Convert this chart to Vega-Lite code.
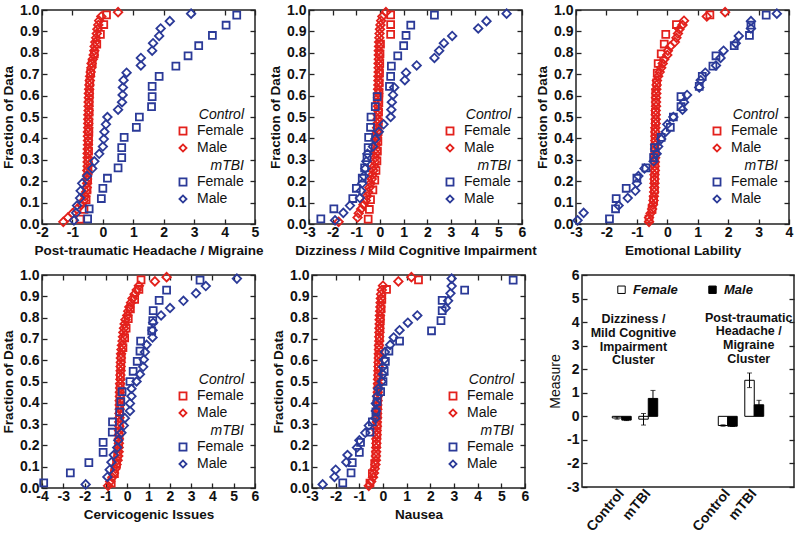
{
"$schema": "https://vega.github.io/schema/vega-lite/v6.json",
"padding": {"left": 0, "top": 2, "right": 0, "bottom": 0},
"background": "white",
"config": {
 "font": "Liberation Sans",
 "view": {"stroke": "#222", "strokeWidth": 1.5},
 "axis": {"domain": false, "grid": false, "tickSize": -5, "tickColor": "#222", "tickWidth": 1.3, "labelFontSize": 14, "labelFontWeight": "bold", "labelColor": "#111", "labelPadding": 8, "labelFlush": false, "labelOverlap": false, "titleFontSize": 13.5, "titleFontWeight": "bold", "titleColor": "#111", "titlePadding": 4},
 "legend": {"padding": 0, "labelFontSize": 14, "labelColor": "#111", "titleFontSize": 14, "titleFontStyle": "italic", "titleFontWeight": "normal", "titleColor": "#111", "titleAnchor": "end", "titlePadding": 2, "symbolSize": 50, "symbolStrokeWidth": 1.8, "rowPadding": 1, "labelOffset": 7},
 "point": {"filled": false, "opacity": 1, "strokeWidth": 1.8}
},
"datasets": {
"p1": [
{"g":"C","s":"F","x":-0.75,"y":0.023},{"g":"C","s":"F","x":-0.62,"y":0.068},{"g":"C","s":"F","x":-0.55,"y":0.114},{"g":"C","s":"F","x":-0.52,"y":0.159},{"g":"C","s":"F","x":-0.5,"y":0.205},{"g":"C","s":"F","x":-0.49,"y":0.25},{"g":"C","s":"F","x":-0.48,"y":0.295},{"g":"C","s":"F","x":-0.47,"y":0.341},{"g":"C","s":"F","x":-0.47,"y":0.386},{"g":"C","s":"F","x":-0.46,"y":0.432},{"g":"C","s":"F","x":-0.46,"y":0.477},{"g":"C","s":"F","x":-0.45,"y":0.523},{"g":"C","s":"F","x":-0.45,"y":0.568},{"g":"C","s":"F","x":-0.44,"y":0.614},{"g":"C","s":"F","x":-0.43,"y":0.659},{"g":"C","s":"F","x":-0.4,"y":0.705},{"g":"C","s":"F","x":-0.35,"y":0.75},{"g":"C","s":"F","x":-0.28,"y":0.795},{"g":"C","s":"F","x":-0.2,"y":0.841},{"g":"C","s":"F","x":-0.08,"y":0.886},{"g":"C","s":"F","x":0.03,"y":0.932},{"g":"C","s":"F","x":0.12,"y":0.977},
{"g":"C","s":"M","x":-1.3,"y":0.01},{"g":"C","s":"M","x":-1.15,"y":0.03},{"g":"C","s":"M","x":-1.0,"y":0.05},{"g":"C","s":"M","x":-0.85,"y":0.07},{"g":"C","s":"M","x":-0.7,"y":0.09},{"g":"C","s":"M","x":-0.62,"y":0.11},{"g":"C","s":"M","x":-0.58,"y":0.13},{"g":"C","s":"M","x":-0.55,"y":0.15},{"g":"C","s":"M","x":-0.53,"y":0.17},{"g":"C","s":"M","x":-0.52,"y":0.19},{"g":"C","s":"M","x":-0.52,"y":0.21},{"g":"C","s":"M","x":-0.51,"y":0.23},{"g":"C","s":"M","x":-0.51,"y":0.25},{"g":"C","s":"M","x":-0.5,"y":0.27},{"g":"C","s":"M","x":-0.5,"y":0.29},{"g":"C","s":"M","x":-0.5,"y":0.31},{"g":"C","s":"M","x":-0.5,"y":0.33},{"g":"C","s":"M","x":-0.5,"y":0.35},{"g":"C","s":"M","x":-0.49,"y":0.37},{"g":"C","s":"M","x":-0.49,"y":0.39},{"g":"C","s":"M","x":-0.49,"y":0.41},{"g":"C","s":"M","x":-0.49,"y":0.43},{"g":"C","s":"M","x":-0.48,"y":0.45},{"g":"C","s":"M","x":-0.48,"y":0.47},{"g":"C","s":"M","x":-0.48,"y":0.49},{"g":"C","s":"M","x":-0.48,"y":0.51},{"g":"C","s":"M","x":-0.47,"y":0.53},{"g":"C","s":"M","x":-0.47,"y":0.55},{"g":"C","s":"M","x":-0.47,"y":0.57},{"g":"C","s":"M","x":-0.46,"y":0.59},{"g":"C","s":"M","x":-0.46,"y":0.61},{"g":"C","s":"M","x":-0.45,"y":0.63},{"g":"C","s":"M","x":-0.44,"y":0.65},{"g":"C","s":"M","x":-0.43,"y":0.67},{"g":"C","s":"M","x":-0.42,"y":0.69},{"g":"C","s":"M","x":-0.4,"y":0.71},{"g":"C","s":"M","x":-0.38,"y":0.73},{"g":"C","s":"M","x":-0.37,"y":0.75},{"g":"C","s":"M","x":-0.33,"y":0.77},{"g":"C","s":"M","x":-0.3,"y":0.79},{"g":"C","s":"M","x":-0.28,"y":0.81},{"g":"C","s":"M","x":-0.27,"y":0.83},{"g":"C","s":"M","x":-0.25,"y":0.85},{"g":"C","s":"M","x":-0.22,"y":0.87},{"g":"C","s":"M","x":-0.2,"y":0.89},{"g":"C","s":"M","x":-0.18,"y":0.91},{"g":"C","s":"M","x":-0.15,"y":0.93},{"g":"C","s":"M","x":-0.12,"y":0.95},{"g":"C","s":"M","x":-0.05,"y":0.97},{"g":"C","s":"M","x":0.5,"y":0.99},
{"g":"T","s":"F","x":-0.5,"y":0.024},{"g":"T","s":"F","x":-0.45,"y":0.071},{"g":"T","s":"F","x":-0.05,"y":0.119},{"g":"T","s":"F","x":0.0,"y":0.167},{"g":"T","s":"F","x":0.15,"y":0.214},{"g":"T","s":"F","x":0.5,"y":0.262},{"g":"T","s":"F","x":0.62,"y":0.31},{"g":"T","s":"F","x":0.62,"y":0.357},{"g":"T","s":"F","x":0.7,"y":0.405},{"g":"T","s":"F","x":1.1,"y":0.452},{"g":"T","s":"F","x":1.2,"y":0.5},{"g":"T","s":"F","x":1.6,"y":0.548},{"g":"T","s":"F","x":1.62,"y":0.595},{"g":"T","s":"F","x":1.62,"y":0.643},{"g":"T","s":"F","x":1.85,"y":0.69},{"g":"T","s":"F","x":2.4,"y":0.738},{"g":"T","s":"F","x":2.8,"y":0.786},{"g":"T","s":"F","x":3.15,"y":0.833},{"g":"T","s":"F","x":3.6,"y":0.881},{"g":"T","s":"F","x":4.05,"y":0.929},{"g":"T","s":"F","x":4.4,"y":0.976},
{"g":"T","s":"M","x":-0.95,"y":0.017},{"g":"T","s":"M","x":-0.88,"y":0.052},{"g":"T","s":"M","x":-0.85,"y":0.086},{"g":"T","s":"M","x":-0.75,"y":0.121},{"g":"T","s":"M","x":-0.73,"y":0.155},{"g":"T","s":"M","x":-0.68,"y":0.19},{"g":"T","s":"M","x":-0.52,"y":0.224},{"g":"T","s":"M","x":-0.35,"y":0.259},{"g":"T","s":"M","x":-0.28,"y":0.293},{"g":"T","s":"M","x":-0.12,"y":0.328},{"g":"T","s":"M","x":0.0,"y":0.362},{"g":"T","s":"M","x":0.03,"y":0.397},{"g":"T","s":"M","x":0.05,"y":0.431},{"g":"T","s":"M","x":0.1,"y":0.466},{"g":"T","s":"M","x":0.15,"y":0.5},{"g":"T","s":"M","x":0.5,"y":0.534},{"g":"T","s":"M","x":0.63,"y":0.569},{"g":"T","s":"M","x":0.65,"y":0.603},{"g":"T","s":"M","x":0.66,"y":0.638},{"g":"T","s":"M","x":0.68,"y":0.672},{"g":"T","s":"M","x":0.78,"y":0.707},{"g":"T","s":"M","x":1.25,"y":0.741},{"g":"T","s":"M","x":1.25,"y":0.776},{"g":"T","s":"M","x":1.62,"y":0.81},{"g":"T","s":"M","x":1.65,"y":0.845},{"g":"T","s":"M","x":1.85,"y":0.879},{"g":"T","s":"M","x":1.9,"y":0.914},{"g":"T","s":"M","x":2.2,"y":0.948},{"g":"T","s":"M","x":2.9,"y":0.983}
],
"p2": [
{"g":"C","s":"F","x":-0.5,"y":0.023},{"g":"C","s":"F","x":-0.45,"y":0.068},{"g":"C","s":"F","x":-0.4,"y":0.114},{"g":"C","s":"F","x":-0.3,"y":0.159},{"g":"C","s":"F","x":-0.22,"y":0.205},{"g":"C","s":"F","x":-0.17,"y":0.25},{"g":"C","s":"F","x":-0.13,"y":0.295},{"g":"C","s":"F","x":-0.11,"y":0.341},{"g":"C","s":"F","x":-0.09,"y":0.386},{"g":"C","s":"F","x":-0.08,"y":0.432},{"g":"C","s":"F","x":-0.07,"y":0.477},{"g":"C","s":"F","x":-0.06,"y":0.523},{"g":"C","s":"F","x":-0.05,"y":0.568},{"g":"C","s":"F","x":-0.04,"y":0.614},{"g":"C","s":"F","x":-0.03,"y":0.659},{"g":"C","s":"F","x":-0.02,"y":0.705},{"g":"C","s":"F","x":-0.01,"y":0.75},{"g":"C","s":"F","x":0.0,"y":0.795},{"g":"C","s":"F","x":0.02,"y":0.841},{"g":"C","s":"F","x":0.45,"y":0.886},{"g":"C","s":"F","x":0.45,"y":0.932},{"g":"C","s":"F","x":0.45,"y":0.977},
{"g":"C","s":"M","x":-1.75,"y":0.01},{"g":"C","s":"M","x":-0.95,"y":0.03},{"g":"C","s":"M","x":-0.9,"y":0.05},{"g":"C","s":"M","x":-0.8,"y":0.07},{"g":"C","s":"M","x":-0.7,"y":0.09},{"g":"C","s":"M","x":-0.6,"y":0.11},{"g":"C","s":"M","x":-0.55,"y":0.13},{"g":"C","s":"M","x":-0.5,"y":0.15},{"g":"C","s":"M","x":-0.45,"y":0.17},{"g":"C","s":"M","x":-0.4,"y":0.19},{"g":"C","s":"M","x":-0.35,"y":0.21},{"g":"C","s":"M","x":-0.32,"y":0.23},{"g":"C","s":"M","x":-0.28,"y":0.25},{"g":"C","s":"M","x":-0.25,"y":0.27},{"g":"C","s":"M","x":-0.22,"y":0.29},{"g":"C","s":"M","x":-0.2,"y":0.31},{"g":"C","s":"M","x":-0.18,"y":0.33},{"g":"C","s":"M","x":-0.17,"y":0.35},{"g":"C","s":"M","x":-0.16,"y":0.37},{"g":"C","s":"M","x":-0.15,"y":0.39},{"g":"C","s":"M","x":-0.14,"y":0.41},{"g":"C","s":"M","x":-0.13,"y":0.43},{"g":"C","s":"M","x":-0.12,"y":0.45},{"g":"C","s":"M","x":-0.11,"y":0.47},{"g":"C","s":"M","x":-0.1,"y":0.49},{"g":"C","s":"M","x":-0.1,"y":0.51},{"g":"C","s":"M","x":-0.09,"y":0.53},{"g":"C","s":"M","x":-0.09,"y":0.55},{"g":"C","s":"M","x":-0.09,"y":0.57},{"g":"C","s":"M","x":-0.08,"y":0.59},{"g":"C","s":"M","x":-0.08,"y":0.61},{"g":"C","s":"M","x":-0.08,"y":0.63},{"g":"C","s":"M","x":-0.07,"y":0.65},{"g":"C","s":"M","x":-0.07,"y":0.67},{"g":"C","s":"M","x":-0.07,"y":0.69},{"g":"C","s":"M","x":-0.06,"y":0.71},{"g":"C","s":"M","x":-0.06,"y":0.73},{"g":"C","s":"M","x":-0.06,"y":0.75},{"g":"C","s":"M","x":-0.05,"y":0.77},{"g":"C","s":"M","x":-0.05,"y":0.79},{"g":"C","s":"M","x":-0.05,"y":0.81},{"g":"C","s":"M","x":-0.04,"y":0.83},{"g":"C","s":"M","x":-0.04,"y":0.85},{"g":"C","s":"M","x":-0.03,"y":0.87},{"g":"C","s":"M","x":-0.02,"y":0.89},{"g":"C","s":"M","x":0.0,"y":0.91},{"g":"C","s":"M","x":0.02,"y":0.93},{"g":"C","s":"M","x":0.05,"y":0.95},{"g":"C","s":"M","x":0.1,"y":0.97},{"g":"C","s":"M","x":0.25,"y":0.99},
{"g":"T","s":"F","x":-2.5,"y":0.024},{"g":"T","s":"F","x":-1.95,"y":0.071},{"g":"T","s":"F","x":-1.15,"y":0.119},{"g":"T","s":"F","x":-1.0,"y":0.167},{"g":"T","s":"F","x":-0.75,"y":0.214},{"g":"T","s":"F","x":-0.65,"y":0.262},{"g":"T","s":"F","x":-0.55,"y":0.31},{"g":"T","s":"F","x":-0.5,"y":0.357},{"g":"T","s":"F","x":-0.48,"y":0.405},{"g":"T","s":"F","x":-0.4,"y":0.452},{"g":"T","s":"F","x":-0.38,"y":0.5},{"g":"T","s":"F","x":-0.2,"y":0.548},{"g":"T","s":"F","x":-0.12,"y":0.595},{"g":"T","s":"F","x":0.4,"y":0.643},{"g":"T","s":"F","x":0.45,"y":0.69},{"g":"T","s":"F","x":0.48,"y":0.738},{"g":"T","s":"F","x":0.75,"y":0.786},{"g":"T","s":"F","x":1.0,"y":0.833},{"g":"T","s":"F","x":1.1,"y":0.881},{"g":"T","s":"F","x":1.3,"y":0.929},{"g":"T","s":"F","x":2.3,"y":0.976},
{"g":"T","s":"M","x":-1.9,"y":0.017},{"g":"T","s":"M","x":-1.55,"y":0.052},{"g":"T","s":"M","x":-1.27,"y":0.086},{"g":"T","s":"M","x":-0.85,"y":0.121},{"g":"T","s":"M","x":-0.8,"y":0.155},{"g":"T","s":"M","x":-0.75,"y":0.19},{"g":"T","s":"M","x":-0.68,"y":0.224},{"g":"T","s":"M","x":-0.62,"y":0.259},{"g":"T","s":"M","x":-0.58,"y":0.293},{"g":"T","s":"M","x":-0.53,"y":0.328},{"g":"T","s":"M","x":-0.3,"y":0.362},{"g":"T","s":"M","x":-0.2,"y":0.397},{"g":"T","s":"M","x":-0.05,"y":0.431},{"g":"T","s":"M","x":0.15,"y":0.466},{"g":"T","s":"M","x":0.45,"y":0.5},{"g":"T","s":"M","x":0.48,"y":0.534},{"g":"T","s":"M","x":0.5,"y":0.569},{"g":"T","s":"M","x":0.55,"y":0.603},{"g":"T","s":"M","x":0.6,"y":0.638},{"g":"T","s":"M","x":1.05,"y":0.672},{"g":"T","s":"M","x":1.1,"y":0.707},{"g":"T","s":"M","x":1.55,"y":0.741},{"g":"T","s":"M","x":2.3,"y":0.776},{"g":"T","s":"M","x":2.5,"y":0.81},{"g":"T","s":"M","x":2.7,"y":0.845},{"g":"T","s":"M","x":3.05,"y":0.879},{"g":"T","s":"M","x":4.15,"y":0.914},{"g":"T","s":"M","x":4.5,"y":0.948},{"g":"T","s":"M","x":5.35,"y":0.983}
],
"p3": [
{"g":"C","s":"F","x":-0.6,"y":0.023},{"g":"C","s":"F","x":-0.5,"y":0.068},{"g":"C","s":"F","x":-0.45,"y":0.114},{"g":"C","s":"F","x":-0.42,"y":0.159},{"g":"C","s":"F","x":-0.42,"y":0.205},{"g":"C","s":"F","x":-0.41,"y":0.25},{"g":"C","s":"F","x":-0.41,"y":0.295},{"g":"C","s":"F","x":-0.4,"y":0.341},{"g":"C","s":"F","x":-0.4,"y":0.386},{"g":"C","s":"F","x":-0.4,"y":0.432},{"g":"C","s":"F","x":-0.39,"y":0.477},{"g":"C","s":"F","x":-0.39,"y":0.523},{"g":"C","s":"F","x":-0.38,"y":0.568},{"g":"C","s":"F","x":-0.38,"y":0.614},{"g":"C","s":"F","x":-0.35,"y":0.659},{"g":"C","s":"F","x":-0.33,"y":0.705},{"g":"C","s":"F","x":-0.3,"y":0.75},{"g":"C","s":"F","x":-0.2,"y":0.795},{"g":"C","s":"F","x":-0.1,"y":0.841},{"g":"C","s":"F","x":-0.05,"y":0.886},{"g":"C","s":"F","x":0.3,"y":0.932},{"g":"C","s":"F","x":1.4,"y":0.977},
{"g":"C","s":"M","x":-0.6,"y":0.01},{"g":"C","s":"M","x":-0.6,"y":0.03},{"g":"C","s":"M","x":-0.55,"y":0.05},{"g":"C","s":"M","x":-0.5,"y":0.07},{"g":"C","s":"M","x":-0.47,"y":0.09},{"g":"C","s":"M","x":-0.45,"y":0.11},{"g":"C","s":"M","x":-0.44,"y":0.13},{"g":"C","s":"M","x":-0.43,"y":0.15},{"g":"C","s":"M","x":-0.43,"y":0.17},{"g":"C","s":"M","x":-0.42,"y":0.19},{"g":"C","s":"M","x":-0.42,"y":0.21},{"g":"C","s":"M","x":-0.42,"y":0.23},{"g":"C","s":"M","x":-0.41,"y":0.25},{"g":"C","s":"M","x":-0.41,"y":0.27},{"g":"C","s":"M","x":-0.41,"y":0.29},{"g":"C","s":"M","x":-0.4,"y":0.31},{"g":"C","s":"M","x":-0.4,"y":0.33},{"g":"C","s":"M","x":-0.4,"y":0.35},{"g":"C","s":"M","x":-0.4,"y":0.37},{"g":"C","s":"M","x":-0.39,"y":0.39},{"g":"C","s":"M","x":-0.39,"y":0.41},{"g":"C","s":"M","x":-0.39,"y":0.43},{"g":"C","s":"M","x":-0.39,"y":0.45},{"g":"C","s":"M","x":-0.38,"y":0.47},{"g":"C","s":"M","x":-0.38,"y":0.49},{"g":"C","s":"M","x":-0.38,"y":0.51},{"g":"C","s":"M","x":-0.38,"y":0.53},{"g":"C","s":"M","x":-0.37,"y":0.55},{"g":"C","s":"M","x":-0.37,"y":0.57},{"g":"C","s":"M","x":-0.37,"y":0.59},{"g":"C","s":"M","x":-0.36,"y":0.61},{"g":"C","s":"M","x":-0.36,"y":0.63},{"g":"C","s":"M","x":-0.35,"y":0.65},{"g":"C","s":"M","x":-0.34,"y":0.67},{"g":"C","s":"M","x":-0.3,"y":0.69},{"g":"C","s":"M","x":-0.25,"y":0.71},{"g":"C","s":"M","x":-0.2,"y":0.73},{"g":"C","s":"M","x":-0.15,"y":0.75},{"g":"C","s":"M","x":-0.1,"y":0.77},{"g":"C","s":"M","x":0.0,"y":0.79},{"g":"C","s":"M","x":0.02,"y":0.81},{"g":"C","s":"M","x":0.1,"y":0.83},{"g":"C","s":"M","x":0.25,"y":0.85},{"g":"C","s":"M","x":0.3,"y":0.87},{"g":"C","s":"M","x":0.35,"y":0.89},{"g":"C","s":"M","x":0.4,"y":0.91},{"g":"C","s":"M","x":0.5,"y":0.93},{"g":"C","s":"M","x":0.55,"y":0.95},{"g":"C","s":"M","x":1.3,"y":0.97},{"g":"C","s":"M","x":1.9,"y":0.99},
{"g":"T","s":"F","x":-1.9,"y":0.024},{"g":"T","s":"F","x":-1.7,"y":0.071},{"g":"T","s":"F","x":-1.68,"y":0.119},{"g":"T","s":"F","x":-1.35,"y":0.167},{"g":"T","s":"F","x":-1.0,"y":0.214},{"g":"T","s":"F","x":-0.7,"y":0.262},{"g":"T","s":"F","x":-0.45,"y":0.31},{"g":"T","s":"F","x":-0.42,"y":0.357},{"g":"T","s":"F","x":-0.2,"y":0.405},{"g":"T","s":"F","x":0.1,"y":0.452},{"g":"T","s":"F","x":0.2,"y":0.5},{"g":"T","s":"F","x":0.45,"y":0.548},{"g":"T","s":"F","x":0.45,"y":0.595},{"g":"T","s":"F","x":1.05,"y":0.643},{"g":"T","s":"F","x":1.15,"y":0.69},{"g":"T","s":"F","x":1.5,"y":0.738},{"g":"T","s":"F","x":1.6,"y":0.786},{"g":"T","s":"F","x":2.2,"y":0.833},{"g":"T","s":"F","x":2.7,"y":0.881},{"g":"T","s":"F","x":2.75,"y":0.929},{"g":"T","s":"F","x":3.25,"y":0.976},
{"g":"T","s":"M","x":-2.95,"y":0.017},{"g":"T","s":"M","x":-2.75,"y":0.052},{"g":"T","s":"M","x":-1.6,"y":0.086},{"g":"T","s":"M","x":-1.3,"y":0.121},{"g":"T","s":"M","x":-1.05,"y":0.155},{"g":"T","s":"M","x":-1.0,"y":0.19},{"g":"T","s":"M","x":-0.95,"y":0.224},{"g":"T","s":"M","x":-0.75,"y":0.259},{"g":"T","s":"M","x":-0.45,"y":0.293},{"g":"T","s":"M","x":-0.35,"y":0.328},{"g":"T","s":"M","x":-0.3,"y":0.362},{"g":"T","s":"M","x":-0.2,"y":0.397},{"g":"T","s":"M","x":-0.05,"y":0.431},{"g":"T","s":"M","x":0.0,"y":0.466},{"g":"T","s":"M","x":0.2,"y":0.5},{"g":"T","s":"M","x":0.5,"y":0.534},{"g":"T","s":"M","x":0.55,"y":0.569},{"g":"T","s":"M","x":0.65,"y":0.603},{"g":"T","s":"M","x":1.05,"y":0.638},{"g":"T","s":"M","x":1.1,"y":0.672},{"g":"T","s":"M","x":1.25,"y":0.707},{"g":"T","s":"M","x":1.6,"y":0.741},{"g":"T","s":"M","x":1.75,"y":0.776},{"g":"T","s":"M","x":1.85,"y":0.81},{"g":"T","s":"M","x":2.25,"y":0.845},{"g":"T","s":"M","x":2.35,"y":0.879},{"g":"T","s":"M","x":2.75,"y":0.914},{"g":"T","s":"M","x":2.75,"y":0.948},{"g":"T","s":"M","x":3.6,"y":0.983}
],
"p4": [
{"g":"C","s":"F","x":-0.75,"y":0.023},{"g":"C","s":"F","x":-0.6,"y":0.068},{"g":"C","s":"F","x":-0.5,"y":0.114},{"g":"C","s":"F","x":-0.45,"y":0.159},{"g":"C","s":"F","x":-0.4,"y":0.205},{"g":"C","s":"F","x":-0.38,"y":0.25},{"g":"C","s":"F","x":-0.37,"y":0.295},{"g":"C","s":"F","x":-0.36,"y":0.341},{"g":"C","s":"F","x":-0.35,"y":0.386},{"g":"C","s":"F","x":-0.34,"y":0.432},{"g":"C","s":"F","x":-0.33,"y":0.477},{"g":"C","s":"F","x":-0.32,"y":0.523},{"g":"C","s":"F","x":-0.3,"y":0.568},{"g":"C","s":"F","x":-0.28,"y":0.614},{"g":"C","s":"F","x":-0.2,"y":0.659},{"g":"C","s":"F","x":-0.12,"y":0.705},{"g":"C","s":"F","x":-0.05,"y":0.75},{"g":"C","s":"F","x":0.05,"y":0.795},{"g":"C","s":"F","x":0.15,"y":0.841},{"g":"C","s":"F","x":0.35,"y":0.886},{"g":"C","s":"F","x":0.55,"y":0.932},{"g":"C","s":"F","x":0.65,"y":0.977},
{"g":"C","s":"M","x":-0.9,"y":0.01},{"g":"C","s":"M","x":-0.8,"y":0.03},{"g":"C","s":"M","x":-0.7,"y":0.05},{"g":"C","s":"M","x":-0.62,"y":0.07},{"g":"C","s":"M","x":-0.55,"y":0.09},{"g":"C","s":"M","x":-0.5,"y":0.11},{"g":"C","s":"M","x":-0.45,"y":0.13},{"g":"C","s":"M","x":-0.42,"y":0.15},{"g":"C","s":"M","x":-0.4,"y":0.17},{"g":"C","s":"M","x":-0.4,"y":0.19},{"g":"C","s":"M","x":-0.39,"y":0.21},{"g":"C","s":"M","x":-0.39,"y":0.23},{"g":"C","s":"M","x":-0.38,"y":0.25},{"g":"C","s":"M","x":-0.38,"y":0.27},{"g":"C","s":"M","x":-0.37,"y":0.29},{"g":"C","s":"M","x":-0.37,"y":0.31},{"g":"C","s":"M","x":-0.36,"y":0.33},{"g":"C","s":"M","x":-0.36,"y":0.35},{"g":"C","s":"M","x":-0.35,"y":0.37},{"g":"C","s":"M","x":-0.35,"y":0.39},{"g":"C","s":"M","x":-0.35,"y":0.41},{"g":"C","s":"M","x":-0.34,"y":0.43},{"g":"C","s":"M","x":-0.34,"y":0.45},{"g":"C","s":"M","x":-0.33,"y":0.47},{"g":"C","s":"M","x":-0.33,"y":0.49},{"g":"C","s":"M","x":-0.32,"y":0.51},{"g":"C","s":"M","x":-0.32,"y":0.53},{"g":"C","s":"M","x":-0.31,"y":0.55},{"g":"C","s":"M","x":-0.31,"y":0.57},{"g":"C","s":"M","x":-0.3,"y":0.59},{"g":"C","s":"M","x":-0.3,"y":0.61},{"g":"C","s":"M","x":-0.29,"y":0.63},{"g":"C","s":"M","x":-0.27,"y":0.65},{"g":"C","s":"M","x":-0.25,"y":0.67},{"g":"C","s":"M","x":-0.22,"y":0.69},{"g":"C","s":"M","x":-0.2,"y":0.71},{"g":"C","s":"M","x":-0.18,"y":0.73},{"g":"C","s":"M","x":-0.15,"y":0.75},{"g":"C","s":"M","x":-0.12,"y":0.77},{"g":"C","s":"M","x":-0.08,"y":0.79},{"g":"C","s":"M","x":0.0,"y":0.81},{"g":"C","s":"M","x":0.05,"y":0.83},{"g":"C","s":"M","x":0.1,"y":0.85},{"g":"C","s":"M","x":0.18,"y":0.87},{"g":"C","s":"M","x":0.25,"y":0.89},{"g":"C","s":"M","x":0.35,"y":0.91},{"g":"C","s":"M","x":0.45,"y":0.93},{"g":"C","s":"M","x":0.55,"y":0.95},{"g":"C","s":"M","x":1.3,"y":0.97},{"g":"C","s":"M","x":1.85,"y":0.99},
{"g":"T","s":"F","x":-3.92,"y":0.024},{"g":"T","s":"F","x":-2.67,"y":0.071},{"g":"T","s":"F","x":-1.8,"y":0.119},{"g":"T","s":"F","x":-1.13,"y":0.167},{"g":"T","s":"F","x":-1.13,"y":0.214},{"g":"T","s":"F","x":-0.7,"y":0.262},{"g":"T","s":"F","x":-0.69,"y":0.31},{"g":"T","s":"F","x":-0.35,"y":0.357},{"g":"T","s":"F","x":-0.3,"y":0.405},{"g":"T","s":"F","x":-0.24,"y":0.452},{"g":"T","s":"F","x":0.13,"y":0.5},{"g":"T","s":"F","x":0.28,"y":0.548},{"g":"T","s":"F","x":0.47,"y":0.595},{"g":"T","s":"F","x":0.6,"y":0.643},{"g":"T","s":"F","x":0.63,"y":0.69},{"g":"T","s":"F","x":1.15,"y":0.738},{"g":"T","s":"F","x":1.2,"y":0.786},{"g":"T","s":"F","x":1.22,"y":0.833},{"g":"T","s":"F","x":1.5,"y":0.881},{"g":"T","s":"F","x":1.85,"y":0.929},{"g":"T","s":"F","x":3.42,"y":0.976},
{"g":"T","s":"M","x":-1.95,"y":0.017},{"g":"T","s":"M","x":-0.93,"y":0.052},{"g":"T","s":"M","x":-0.82,"y":0.086},{"g":"T","s":"M","x":-0.74,"y":0.121},{"g":"T","s":"M","x":-0.63,"y":0.155},{"g":"T","s":"M","x":-0.47,"y":0.19},{"g":"T","s":"M","x":-0.42,"y":0.224},{"g":"T","s":"M","x":-0.27,"y":0.259},{"g":"T","s":"M","x":-0.16,"y":0.293},{"g":"T","s":"M","x":-0.11,"y":0.328},{"g":"T","s":"M","x":0.13,"y":0.362},{"g":"T","s":"M","x":0.13,"y":0.397},{"g":"T","s":"M","x":0.2,"y":0.431},{"g":"T","s":"M","x":0.2,"y":0.466},{"g":"T","s":"M","x":0.44,"y":0.5},{"g":"T","s":"M","x":0.6,"y":0.534},{"g":"T","s":"M","x":0.75,"y":0.569},{"g":"T","s":"M","x":0.78,"y":0.603},{"g":"T","s":"M","x":0.83,"y":0.638},{"g":"T","s":"M","x":0.91,"y":0.672},{"g":"T","s":"M","x":1.19,"y":0.707},{"g":"T","s":"M","x":1.19,"y":0.741},{"g":"T","s":"M","x":1.22,"y":0.776},{"g":"T","s":"M","x":1.59,"y":0.81},{"g":"T","s":"M","x":2.01,"y":0.845},{"g":"T","s":"M","x":2.64,"y":0.879},{"g":"T","s":"M","x":3.23,"y":0.914},{"g":"T","s":"M","x":3.69,"y":0.948},{"g":"T","s":"M","x":5.15,"y":0.983}
],
"p5": [
{"g":"C","s":"F","x":-0.55,"y":0.023},{"g":"C","s":"F","x":-0.45,"y":0.068},{"g":"C","s":"F","x":-0.35,"y":0.114},{"g":"C","s":"F","x":-0.3,"y":0.159},{"g":"C","s":"F","x":-0.28,"y":0.205},{"g":"C","s":"F","x":-0.26,"y":0.25},{"g":"C","s":"F","x":-0.25,"y":0.295},{"g":"C","s":"F","x":-0.24,"y":0.341},{"g":"C","s":"F","x":-0.23,"y":0.386},{"g":"C","s":"F","x":-0.22,"y":0.432},{"g":"C","s":"F","x":-0.21,"y":0.477},{"g":"C","s":"F","x":-0.2,"y":0.523},{"g":"C","s":"F","x":-0.19,"y":0.568},{"g":"C","s":"F","x":-0.18,"y":0.614},{"g":"C","s":"F","x":-0.17,"y":0.659},{"g":"C","s":"F","x":-0.15,"y":0.705},{"g":"C","s":"F","x":-0.13,"y":0.75},{"g":"C","s":"F","x":-0.11,"y":0.795},{"g":"C","s":"F","x":-0.08,"y":0.841},{"g":"C","s":"F","x":-0.05,"y":0.886},{"g":"C","s":"F","x":0.15,"y":0.932},{"g":"C","s":"F","x":1.5,"y":0.977},
{"g":"C","s":"M","x":-0.6,"y":0.01},{"g":"C","s":"M","x":-0.5,"y":0.03},{"g":"C","s":"M","x":-0.42,"y":0.05},{"g":"C","s":"M","x":-0.38,"y":0.07},{"g":"C","s":"M","x":-0.35,"y":0.09},{"g":"C","s":"M","x":-0.32,"y":0.11},{"g":"C","s":"M","x":-0.3,"y":0.13},{"g":"C","s":"M","x":-0.3,"y":0.15},{"g":"C","s":"M","x":-0.29,"y":0.17},{"g":"C","s":"M","x":-0.29,"y":0.19},{"g":"C","s":"M","x":-0.28,"y":0.21},{"g":"C","s":"M","x":-0.28,"y":0.23},{"g":"C","s":"M","x":-0.27,"y":0.25},{"g":"C","s":"M","x":-0.27,"y":0.27},{"g":"C","s":"M","x":-0.26,"y":0.29},{"g":"C","s":"M","x":-0.26,"y":0.31},{"g":"C","s":"M","x":-0.25,"y":0.33},{"g":"C","s":"M","x":-0.25,"y":0.35},{"g":"C","s":"M","x":-0.24,"y":0.37},{"g":"C","s":"M","x":-0.24,"y":0.39},{"g":"C","s":"M","x":-0.23,"y":0.41},{"g":"C","s":"M","x":-0.23,"y":0.43},{"g":"C","s":"M","x":-0.22,"y":0.45},{"g":"C","s":"M","x":-0.22,"y":0.47},{"g":"C","s":"M","x":-0.21,"y":0.49},{"g":"C","s":"M","x":-0.21,"y":0.51},{"g":"C","s":"M","x":-0.2,"y":0.53},{"g":"C","s":"M","x":-0.2,"y":0.55},{"g":"C","s":"M","x":-0.19,"y":0.57},{"g":"C","s":"M","x":-0.19,"y":0.59},{"g":"C","s":"M","x":-0.18,"y":0.61},{"g":"C","s":"M","x":-0.18,"y":0.63},{"g":"C","s":"M","x":-0.17,"y":0.65},{"g":"C","s":"M","x":-0.17,"y":0.67},{"g":"C","s":"M","x":-0.16,"y":0.69},{"g":"C","s":"M","x":-0.16,"y":0.71},{"g":"C","s":"M","x":-0.15,"y":0.73},{"g":"C","s":"M","x":-0.15,"y":0.75},{"g":"C","s":"M","x":-0.14,"y":0.77},{"g":"C","s":"M","x":-0.14,"y":0.79},{"g":"C","s":"M","x":-0.13,"y":0.81},{"g":"C","s":"M","x":-0.12,"y":0.83},{"g":"C","s":"M","x":-0.11,"y":0.85},{"g":"C","s":"M","x":-0.1,"y":0.87},{"g":"C","s":"M","x":-0.09,"y":0.89},{"g":"C","s":"M","x":-0.08,"y":0.91},{"g":"C","s":"M","x":-0.05,"y":0.93},{"g":"C","s":"M","x":0.0,"y":0.95},{"g":"C","s":"M","x":0.65,"y":0.97},{"g":"C","s":"M","x":1.2,"y":0.99},
{"g":"T","s":"F","x":-1.7,"y":0.024},{"g":"T","s":"F","x":-1.35,"y":0.071},{"g":"T","s":"F","x":-1.3,"y":0.119},{"g":"T","s":"F","x":-1.0,"y":0.167},{"g":"T","s":"F","x":-0.95,"y":0.214},{"g":"T","s":"F","x":-0.55,"y":0.262},{"g":"T","s":"F","x":-0.45,"y":0.31},{"g":"T","s":"F","x":-0.3,"y":0.357},{"g":"T","s":"F","x":-0.25,"y":0.405},{"g":"T","s":"F","x":-0.1,"y":0.452},{"g":"T","s":"F","x":0.0,"y":0.5},{"g":"T","s":"F","x":0.05,"y":0.548},{"g":"T","s":"F","x":0.1,"y":0.595},{"g":"T","s":"F","x":0.25,"y":0.643},{"g":"T","s":"F","x":0.7,"y":0.69},{"g":"T","s":"F","x":2.05,"y":0.738},{"g":"T","s":"F","x":2.45,"y":0.786},{"g":"T","s":"F","x":2.5,"y":0.833},{"g":"T","s":"F","x":2.5,"y":0.881},{"g":"T","s":"F","x":3.45,"y":0.929},{"g":"T","s":"F","x":5.5,"y":0.976},
{"g":"T","s":"M","x":-2.55,"y":0.017},{"g":"T","s":"M","x":-2.05,"y":0.052},{"g":"T","s":"M","x":-2.0,"y":0.086},{"g":"T","s":"M","x":-1.55,"y":0.121},{"g":"T","s":"M","x":-1.5,"y":0.155},{"g":"T","s":"M","x":-1.1,"y":0.19},{"g":"T","s":"M","x":-1.0,"y":0.224},{"g":"T","s":"M","x":-0.75,"y":0.259},{"g":"T","s":"M","x":-0.6,"y":0.293},{"g":"T","s":"M","x":-0.32,"y":0.328},{"g":"T","s":"M","x":-0.3,"y":0.362},{"g":"T","s":"M","x":-0.3,"y":0.397},{"g":"T","s":"M","x":-0.25,"y":0.431},{"g":"T","s":"M","x":-0.2,"y":0.466},{"g":"T","s":"M","x":-0.05,"y":0.5},{"g":"T","s":"M","x":0.0,"y":0.534},{"g":"T","s":"M","x":0.0,"y":0.569},{"g":"T","s":"M","x":0.05,"y":0.603},{"g":"T","s":"M","x":0.08,"y":0.638},{"g":"T","s":"M","x":0.3,"y":0.672},{"g":"T","s":"M","x":0.45,"y":0.707},{"g":"T","s":"M","x":0.7,"y":0.741},{"g":"T","s":"M","x":1.05,"y":0.776},{"g":"T","s":"M","x":1.45,"y":0.81},{"g":"T","s":"M","x":2.65,"y":0.845},{"g":"T","s":"M","x":2.75,"y":0.879},{"g":"T","s":"M","x":2.85,"y":0.914},{"g":"T","s":"M","x":2.9,"y":0.948},{"g":"T","s":"M","x":2.9,"y":0.983}
],
"bars": [
{"c":"DC","s":"Female","v":-0.07,"lo":-0.12,"hi":-0.02},
{"c":"DC","s":"Male","v":-0.16,"lo":-0.18,"hi":-0.14},
{"c":"DM","s":"Female","v":-0.12,"lo":-0.37,"hi":0.12},
{"c":"DM","s":"Male","v":0.76,"lo":0.42,"hi":1.1},
{"c":"HC","s":"Female","v":-0.39,"lo":-0.42,"hi":-0.36},
{"c":"HC","s":"Male","v":-0.42,"lo":-0.43,"hi":-0.41},
{"c":"HM","s":"Female","v":1.53,"lo":1.22,"hi":1.84},
{"c":"HM","s":"Male","v":0.49,"lo":0.3,"hi":0.68}
]
},
"spacing": 9,
"vconcat": [
{"spacing": 54, "bounds": "flush", "hconcat": [
 {"width": 213, "height": 214, "data": {"name": "p1"},
  "resolve": {"scale": {"shape": "independent"}, "axis": {"x": "independent", "y": "independent"}},
  "layer": [
   {"transform": [{"filter": "datum.g == 'C'"}], "mark": {"type": "point", "color": "#e3211c"},
    "encoding": {
     "x": {"field": "x", "type": "quantitative", "scale": {"domain": [-2, 5], "nice": false, "zero": false}, "axis": {"title": "Post-traumatic Headache / Migraine", "values": [-2,-1,0,1,2,3,4,5], "labelExpr": "toString(datum.value)", "labelPadding": 6}},
     "y": {"field": "y", "type": "quantitative", "scale": {"domain": [0, 1], "nice": false}, "axis": {"title": "Fraction of Data", "values": [0,0.1,0.2,0.3,0.4,0.5,0.6,0.7,0.8,0.9,1], "format": ".1f"}},
     "shape": {"field": "s", "type": "nominal", "scale": {"domain": ["F","M"], "range": ["square","diamond"]}, "legend": {"title": "Control", "orient": "none", "legendX": 134, "legendY": 98, "labelExpr": "datum.label == 'F' ? 'Female' : 'Male'"}},
     "size": {"field": "s", "type": "nominal", "scale": {"domain": ["F","M"], "range": [48, 72]}, "legend": null}}},
   {"transform": [{"filter": "datum.g == 'T'"}], "mark": {"type": "point", "color": "#2b3a98"},
    "encoding": {
     "x": {"field": "x", "type": "quantitative", "scale": {"domain": [-2, 5], "nice": false, "zero": false}, "axis": {"orient": "top", "labels": false, "title": null, "values": [-2,-1,0,1,2,3,4,5]}},
     "y": {"field": "y", "type": "quantitative", "scale": {"domain": [0, 1], "nice": false}, "axis": {"orient": "right", "labels": false, "title": null, "values": [0,0.1,0.2,0.3,0.4,0.5,0.6,0.7,0.8,0.9,1]}},
     "shape": {"field": "s", "type": "nominal", "scale": {"domain": ["F","M"], "range": ["square","diamond"]}, "legend": {"title": "mTBI", "orient": "none", "legendX": 134, "legendY": 149, "labelExpr": "datum.label == 'F' ? 'Female' : 'Male'"}},
     "size": {"field": "s", "type": "nominal", "scale": {"domain": ["F","M"], "range": [48, 72]}, "legend": null}}}
  ]},
 {"width": 213, "height": 214, "data": {"name": "p2"},
  "resolve": {"scale": {"shape": "independent"}, "axis": {"x": "independent", "y": "independent"}},
  "layer": [
   {"transform": [{"filter": "datum.g == 'C'"}], "mark": {"type": "point", "color": "#e3211c"},
    "encoding": {
     "x": {"field": "x", "type": "quantitative", "scale": {"domain": [-3, 6], "nice": false, "zero": false}, "axis": {"title": "Dizziness / Mild Cognitive Impairment", "values": [-3,-2,-1,0,1,2,3,4,5,6], "labelExpr": "toString(datum.value)", "labelPadding": 6}},
     "y": {"field": "y", "type": "quantitative", "scale": {"domain": [0, 1], "nice": false}, "axis": {"title": "Fraction of Data", "values": [0,0.1,0.2,0.3,0.4,0.5,0.6,0.7,0.8,0.9,1], "format": ".1f"}},
     "shape": {"field": "s", "type": "nominal", "scale": {"domain": ["F","M"], "range": ["square","diamond"]}, "legend": {"title": "Control", "orient": "none", "legendX": 134, "legendY": 98, "labelExpr": "datum.label == 'F' ? 'Female' : 'Male'"}},
     "size": {"field": "s", "type": "nominal", "scale": {"domain": ["F","M"], "range": [48, 72]}, "legend": null}}},
   {"transform": [{"filter": "datum.g == 'T'"}], "mark": {"type": "point", "color": "#2b3a98"},
    "encoding": {
     "x": {"field": "x", "type": "quantitative", "scale": {"domain": [-3, 6], "nice": false, "zero": false}, "axis": {"orient": "top", "labels": false, "title": null, "values": [-3,-2,-1,0,1,2,3,4,5,6]}},
     "y": {"field": "y", "type": "quantitative", "scale": {"domain": [0, 1], "nice": false}, "axis": {"orient": "right", "labels": false, "title": null, "values": [0,0.1,0.2,0.3,0.4,0.5,0.6,0.7,0.8,0.9,1]}},
     "shape": {"field": "s", "type": "nominal", "scale": {"domain": ["F","M"], "range": ["square","diamond"]}, "legend": {"title": "mTBI", "orient": "none", "legendX": 134, "legendY": 149, "labelExpr": "datum.label == 'F' ? 'Female' : 'Male'"}},
     "size": {"field": "s", "type": "nominal", "scale": {"domain": ["F","M"], "range": [48, 72]}, "legend": null}}}
  ]},
 {"width": 213, "height": 214, "data": {"name": "p3"},
  "resolve": {"scale": {"shape": "independent"}, "axis": {"x": "independent", "y": "independent"}},
  "layer": [
   {"transform": [{"filter": "datum.g == 'C'"}], "mark": {"type": "point", "color": "#e3211c"},
    "encoding": {
     "x": {"field": "x", "type": "quantitative", "scale": {"domain": [-3, 4], "nice": false, "zero": false}, "axis": {"title": "Emotional Lability", "values": [-3,-2,-1,0,1,2,3,4], "labelExpr": "toString(datum.value)", "labelPadding": 6}},
     "y": {"field": "y", "type": "quantitative", "scale": {"domain": [0, 1], "nice": false}, "axis": {"title": "Fraction of Data", "values": [0,0.1,0.2,0.3,0.4,0.5,0.6,0.7,0.8,0.9,1], "format": ".1f"}},
     "shape": {"field": "s", "type": "nominal", "scale": {"domain": ["F","M"], "range": ["square","diamond"]}, "legend": {"title": "Control", "orient": "none", "legendX": 134, "legendY": 98, "labelExpr": "datum.label == 'F' ? 'Female' : 'Male'"}},
     "size": {"field": "s", "type": "nominal", "scale": {"domain": ["F","M"], "range": [48, 72]}, "legend": null}}},
   {"transform": [{"filter": "datum.g == 'T'"}], "mark": {"type": "point", "color": "#2b3a98"},
    "encoding": {
     "x": {"field": "x", "type": "quantitative", "scale": {"domain": [-3, 4], "nice": false, "zero": false}, "axis": {"orient": "top", "labels": false, "title": null, "values": [-3,-2,-1,0,1,2,3,4]}},
     "y": {"field": "y", "type": "quantitative", "scale": {"domain": [0, 1], "nice": false}, "axis": {"orient": "right", "labels": false, "title": null, "values": [0,0.1,0.2,0.3,0.4,0.5,0.6,0.7,0.8,0.9,1]}},
     "shape": {"field": "s", "type": "nominal", "scale": {"domain": ["F","M"], "range": ["square","diamond"]}, "legend": {"title": "mTBI", "orient": "none", "legendX": 134, "legendY": 149, "labelExpr": "datum.label == 'F' ? 'Female' : 'Male'"}},
     "size": {"field": "s", "type": "nominal", "scale": {"domain": ["F","M"], "range": [48, 72]}, "legend": null}}}
  ]}
]},
{"spacing": 57, "bounds": "flush", "resolve": {"scale": {"fill": "independent"}}, "hconcat": [
 {"width": 213, "height": 213, "data": {"name": "p4"},
  "resolve": {"scale": {"shape": "independent"}, "axis": {"x": "independent", "y": "independent"}},
  "layer": [
   {"transform": [{"filter": "datum.g == 'C'"}], "mark": {"type": "point", "color": "#e3211c"},
    "encoding": {
     "x": {"field": "x", "type": "quantitative", "scale": {"domain": [-4, 6], "nice": false, "zero": false}, "axis": {"title": "Cervicogenic Issues", "values": [-4,-3,-2,-1,0,1,2,3,4,5,6], "labelExpr": "toString(datum.value)", "labelPadding": 6}},
     "y": {"field": "y", "type": "quantitative", "scale": {"domain": [0, 1], "nice": false}, "axis": {"title": "Fraction of Data", "values": [0,0.1,0.2,0.3,0.4,0.5,0.6,0.7,0.8,0.9,1], "format": ".1f"}},
     "shape": {"field": "s", "type": "nominal", "scale": {"domain": ["F","M"], "range": ["square","diamond"]}, "legend": {"title": "Control", "orient": "none", "legendX": 134, "legendY": 98, "labelExpr": "datum.label == 'F' ? 'Female' : 'Male'"}},
     "size": {"field": "s", "type": "nominal", "scale": {"domain": ["F","M"], "range": [48, 72]}, "legend": null}}},
   {"transform": [{"filter": "datum.g == 'T'"}], "mark": {"type": "point", "color": "#2b3a98"},
    "encoding": {
     "x": {"field": "x", "type": "quantitative", "scale": {"domain": [-4, 6], "nice": false, "zero": false}, "axis": {"orient": "top", "labels": false, "title": null, "values": [-4,-3,-2,-1,0,1,2,3,4,5,6]}},
     "y": {"field": "y", "type": "quantitative", "scale": {"domain": [0, 1], "nice": false}, "axis": {"orient": "right", "labels": false, "title": null, "values": [0,0.1,0.2,0.3,0.4,0.5,0.6,0.7,0.8,0.9,1]}},
     "shape": {"field": "s", "type": "nominal", "scale": {"domain": ["F","M"], "range": ["square","diamond"]}, "legend": {"title": "mTBI", "orient": "none", "legendX": 134, "legendY": 149, "labelExpr": "datum.label == 'F' ? 'Female' : 'Male'"}},
     "size": {"field": "s", "type": "nominal", "scale": {"domain": ["F","M"], "range": [48, 72]}, "legend": null}}}
  ]},
 {"width": 213, "height": 213, "data": {"name": "p5"},
  "resolve": {"scale": {"shape": "independent"}, "axis": {"x": "independent", "y": "independent"}},
  "layer": [
   {"transform": [{"filter": "datum.g == 'C'"}], "mark": {"type": "point", "color": "#e3211c"},
    "encoding": {
     "x": {"field": "x", "type": "quantitative", "scale": {"domain": [-3, 6], "nice": false, "zero": false}, "axis": {"title": "Nausea", "values": [-3,-2,-1,0,1,2,3,4,5,6], "labelExpr": "toString(datum.value)", "labelPadding": 6}},
     "y": {"field": "y", "type": "quantitative", "scale": {"domain": [0, 1], "nice": false}, "axis": {"title": "Fraction of Data", "values": [0,0.1,0.2,0.3,0.4,0.5,0.6,0.7,0.8,0.9,1], "format": ".1f"}},
     "shape": {"field": "s", "type": "nominal", "scale": {"domain": ["F","M"], "range": ["square","diamond"]}, "legend": {"title": "Control", "orient": "none", "legendX": 134, "legendY": 98, "labelExpr": "datum.label == 'F' ? 'Female' : 'Male'"}},
     "size": {"field": "s", "type": "nominal", "scale": {"domain": ["F","M"], "range": [48, 72]}, "legend": null}}},
   {"transform": [{"filter": "datum.g == 'T'"}], "mark": {"type": "point", "color": "#2b3a98"},
    "encoding": {
     "x": {"field": "x", "type": "quantitative", "scale": {"domain": [-3, 6], "nice": false, "zero": false}, "axis": {"orient": "top", "labels": false, "title": null, "values": [-3,-2,-1,0,1,2,3,4,5,6]}},
     "y": {"field": "y", "type": "quantitative", "scale": {"domain": [0, 1], "nice": false}, "axis": {"orient": "right", "labels": false, "title": null, "values": [0,0.1,0.2,0.3,0.4,0.5,0.6,0.7,0.8,0.9,1]}},
     "shape": {"field": "s", "type": "nominal", "scale": {"domain": ["F","M"], "range": ["square","diamond"]}, "legend": {"title": "mTBI", "orient": "none", "legendX": 134, "legendY": 149, "labelExpr": "datum.label == 'F' ? 'Female' : 'Male'"}},
     "size": {"field": "s", "type": "nominal", "scale": {"domain": ["F","M"], "range": [48, 72]}, "legend": null}}}
  ]},
 {"width": 212, "height": 212,
  "resolve": {"axis": {"y": "independent"}},
  "layer": [
   {"data": {"name": "bars"}, "mark": {"type": "bar", "stroke": "#000", "strokeWidth": 1},
    "encoding": {
     "x": {"field": "c", "type": "nominal", "scale": {"domain": ["DC","DM","S1","S2","HC","HM"], "paddingInner": 0, "paddingOuter": 1.2}, "axis": {"title": null, "ticks": false, "labelAngle": -50, "labelAlign": "right", "labelBaseline": "middle", "labelPadding": 4, "labelExpr": "indexof(['DC','HC'], datum.value) >= 0 ? 'Control' : (indexof(['DM','HM'], datum.value) >= 0 ? 'mTBI' : '')"}},
     "xOffset": {"field": "s", "type": "nominal", "scale": {"domain": ["Female","Male"], "paddingInner": 0, "paddingOuter": 0.4}},
     "y": {"field": "v", "type": "quantitative", "scale": {"domain": [-3, 6], "nice": false}, "axis": {"title": "Measure", "titleFontWeight": "normal", "titleFontSize": 14, "values": [-3,-2,-1,0,1,2,3,4,5,6], "labelExpr": "toString(datum.value)"}},
     "fill": {"field": "s", "type": "nominal", "scale": {"domain": ["Female","Male"], "range": ["#ffffff","#000000"]}, "legend": {"title": null, "orient": "none", "legendX": 33, "legendY": 8, "direction": "horizontal", "symbolType": "square", "symbolSize": 55, "symbolStrokeColor": "#000", "symbolStrokeWidth": 1, "labelFontSize": 13, "labelFontStyle": "italic", "labelFontWeight": "bold", "columnPadding": 28, "labelOffset": 5}}}},
   {"data": {"name": "bars"}, "mark": {"type": "rule", "color": "#000", "strokeWidth": 1},
    "encoding": {
     "x": {"field": "c", "type": "nominal"},
     "xOffset": {"field": "s", "type": "nominal"},
     "y": {"field": "lo", "type": "quantitative", "axis": {"orient": "right", "labels": false, "title": null, "values": [-3,-2,-1,0,1,2,3,4,5,6]}},
     "y2": {"field": "hi"}}},
   {"data": {"name": "bars"}, "mark": {"type": "tick", "color": "#000", "size": 5, "thickness": 1},
    "encoding": {
     "x": {"field": "c", "type": "nominal"},
     "xOffset": {"field": "s", "type": "nominal"},
     "y": {"field": "hi", "type": "quantitative", "axis": null}}},
   {"data": {"name": "bars"}, "mark": {"type": "tick", "color": "#000", "size": 5, "thickness": 1},
    "encoding": {
     "x": {"field": "c", "type": "nominal"},
     "xOffset": {"field": "s", "type": "nominal"},
     "y": {"field": "lo", "type": "quantitative", "axis": null}}},
   {"data": {"values": [{"c": "DC"}]}, "mark": {"type": "text", "fontWeight": "bold", "fontSize": 12.5, "lineHeight": 13.7, "baseline": "top", "align": "center", "color": "#111"},
    "encoding": {
     "x": {"field": "c", "type": "nominal", "bandPosition": 0.94},
     "y": {"datum": 4.38, "type": "quantitative", "axis": null},
     "text": {"value": ["Dizziness /", "Mild Cognitive", "Impairment", "Cluster"]}}},
   {"data": {"values": [{"c": "HM"}]}, "mark": {"type": "text", "fontWeight": "bold", "fontSize": 12.5, "lineHeight": 13.7, "baseline": "top", "align": "center", "color": "#111"},
    "encoding": {
     "x": {"field": "c", "type": "nominal", "bandPosition": 0.29},
     "y": {"datum": 4.45, "type": "quantitative", "axis": null},
     "text": {"value": ["Post-traumatic", "Headache /", "Migraine", "Cluster"]}}}
  ]}
]}
]
}
